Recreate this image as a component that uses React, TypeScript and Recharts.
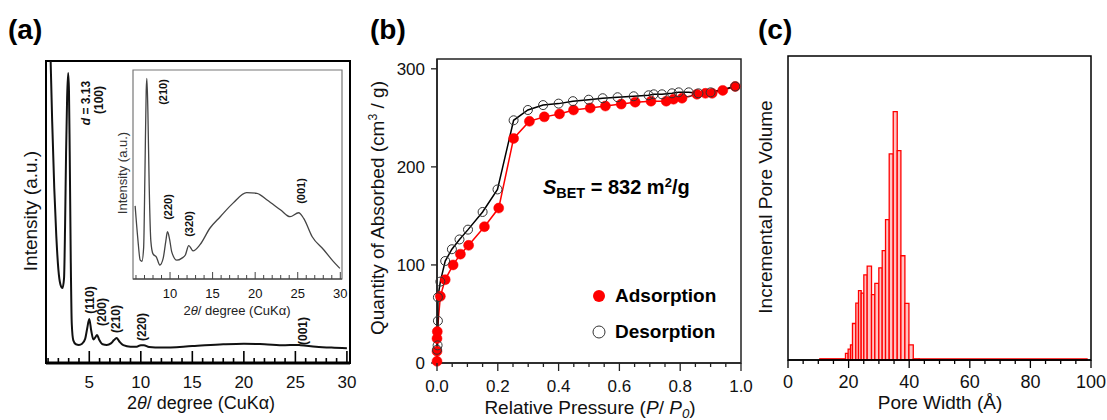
import React from 'react';
import { LineChart, Line, XAxis, YAxis, ReferenceArea } from 'recharts';

const FONT = '"Liberation Sans", Arial, Helvetica, sans-serif';
const RED = '#ff0000';

// (a) small-angle XRD, main trace
const xrdAngle = [1.25, 1.4, 1.6, 1.8, 2.0, 2.2, 2.4, 2.55, 2.65, 2.75, 2.85, 2.95, 3.03, 3.1, 3.2, 3.3, 3.45, 3.7, 4.0, 4.3, 4.6, 4.8, 5.0, 5.2, 5.4, 5.6, 5.75, 5.95, 6.3, 6.7, 7.1, 7.4, 7.65, 7.9, 8.3, 9.0, 9.6, 10.0, 10.3, 10.8, 12, 15, 18, 20, 22, 24, 25, 25.5, 27, 28.5, 30];
const xrdIntensity = [100, 80, 58, 42, 31, 26, 24.8, 28, 45, 70, 88, 96, 90, 70, 35, 13, 7.5, 6.2, 6.0, 6.4, 8, 11.5, 14.6, 10.5, 7.8, 8.6, 9.3, 7.8, 6.2, 6.0, 6.5, 7.6, 8.3, 7.2, 5.9, 5.4, 5.4, 5.9, 5.9, 5.3, 5.1, 5.6, 6.2, 6.4, 6.2, 5.9, 6.0, 5.9, 5.4, 5.1, 4.9];

// (a) inset trace
const insetAngle = [5.9, 6.2, 6.5, 6.7, 6.9, 7.05, 7.2, 7.28, 7.4, 7.55, 7.75, 8.0, 8.4, 8.8, 9.2, 9.5, 9.7, 9.95, 10.2, 10.8, 11.4, 11.8, 12.2, 12.7, 13.5, 14.7, 15.9, 17.4, 19.0, 20.2, 21.4, 23.0, 24.1, 25.1, 25.7, 26.7, 28.05, 29.2, 29.95];
const insetIntensity = [35, 20, 9, 8.5, 15, 50, 90, 96, 80, 45, 18, 12, 10.5, 6.7, 10, 18, 22.6, 19, 13, 9, 10, 11.5, 16, 13.5, 16.3, 24.4, 29.8, 36.3, 41.3, 41, 37.8, 33, 29.8, 31.7, 29, 20.2, 14, 8.3, 5.1];

// (b) N2 isotherm
const adsP = [0, 0, 0, 0.001, 0.011, 0.027, 0.053, 0.077, 0.104, 0.156, 0.203, 0.252, 0.304, 0.353, 0.403, 0.449, 0.504, 0.554, 0.606, 0.652, 0.704, 0.754, 0.778, 0.806, 0.855, 0.883, 0.905, 0.94, 0.981];
const adsQ = [1.7, 12, 25, 32, 68, 85, 100, 111, 120, 139, 158, 229, 246.5, 251, 254, 258, 260, 262, 264, 266, 267, 267, 269, 270, 274, 275, 275, 278, 282];
const desP = [0.981, 0.9, 0.86, 0.828, 0.795, 0.773, 0.74, 0.713, 0.696, 0.647, 0.594, 0.545, 0.499, 0.447, 0.4, 0.349, 0.299, 0.252, 0.199, 0.15, 0.102, 0.074, 0.049, 0.027, 0.011, 0.003, 0.003, 0.002, 0];
const desQ = [282, 276, 275, 276, 276, 275, 274, 274, 273, 272, 271, 270, 268.5, 267, 264.5, 263, 258, 247.5, 177, 154, 136, 126, 116, 104, 83, 67, 43, 18, 13.5];

// (c) pore size distribution (bin edges in Å, heights in relative units)
const poreEdges = [10.5, 18.97, 19.85, 20.62, 21.28, 22.38, 23.27, 24.15, 25.03, 26.13, 27.56, 28.66, 29.98, 31.09, 32.19, 33.4, 34.73, 36.05, 37.26, 38.58, 39.91, 41.34, 43.32, 98.7];
const poreVolume = [0.4, 2.2, 3.6, 5.0, 12.0, 18.7, 22.8, 22.0, 28.0, 30.9, 21.5, 25.2, 30.3, 36.0, 46.2, 67.8, 81.7, 68.9, 34.3, 18.6, 5.0, 0.4, 0.4];

// tick values
const xrdTicks = [1, 2, 3, 4, 5, 6, 7, 8, 9, 10, 11, 12, 13, 14, 15, 16, 17, 18, 19, 20, 21, 22, 23, 24, 25, 26, 27, 28, 29, 30];
const insetTicks = xrdTicks.filter((v) => v >= 6);
const pressureTicks = [0, 0.05, 0.1, 0.15, 0.2, 0.25, 0.3, 0.35, 0.4, 0.45, 0.5, 0.55, 0.6, 0.65, 0.7, 0.75, 0.8, 0.85, 0.9, 0.95, 1.0];
const quantityTicks = [0, 100, 200, 300];
const widthTicks = [0, 5, 10, 15, 20, 25, 30, 35, 40, 45, 50, 55, 60, 65, 70, 75, 80, 85, 90, 95, 100];

const zip = (xs: number[], ys: number[]) => xs.map((x, i) => ({ x, y: ys[i] }));
const xrdData = zip(xrdAngle, xrdIntensity);
const insetData = zip(insetAngle, insetIntensity);
const adsData = zip(adsP, adsQ);
const desData = zip(desP, desQ);
const poreBins = poreVolume.map((h, i) => ({ x1: poreEdges[i], x2: poreEdges[i + 1], x: (poreEdges[i] + poreEdges[i + 1]) / 2, h }));

type TickOpts = {
  isMajor: (v: number) => boolean;
  label: (v: number) => string;
  dir: number;
  minLen: number;
  majLen: number;
  dy: number;
  size: number;
  sw: number;
  color: string;
};

const makeTick = (o: TickOpts) => (props: any) => {
  const { x, y, payload } = props;
  const v = payload.value;
  const maj = o.isMajor(v);
  return (
    <g>
      <line x1={x} x2={x} y1={y} y2={y + o.dir * (maj ? o.majLen : o.minLen)} stroke={o.color} strokeWidth={o.sw} />
      {maj && (
        <text x={x} y={y + o.dy} textAnchor="middle" fontSize={o.size} fontFamily={FONT} fill="#111">
          {o.label(v)}
        </text>
      )}
    </g>
  );
};

const xrdTick = makeTick({ isMajor: (v) => v % 5 === 0, label: String, dir: -1, minLen: 5, majLen: 12, dy: 25, size: 17, sw: 1.6, color: '#000' });
const insetTick = makeTick({ isMajor: (v) => v % 5 === 0, label: String, dir: -1, minLen: 4, majLen: 7, dy: 19, size: 13, sw: 1, color: '#444' });
const pressureTick = makeTick({ isMajor: (v) => Math.abs(v * 5 - Math.round(v * 5)) < 1e-6, label: (v) => v.toFixed(1), dir: 1, minLen: 4, majLen: 8, dy: 29, size: 17, sw: 1.3, color: '#222' });
const widthTick = makeTick({ isMajor: (v) => v % 20 === 0, label: String, dir: 1, minLen: 4, majLen: 8, dy: 28, size: 18, sw: 1.3, color: '#000' });

const Txt = ({ x, y, size, rot, bold, color, children }: any) => (
  <div
    style={{
      position: 'absolute',
      left: x,
      top: y,
      transform: `translate(-50%, -50%)${rot ? ' rotate(-90deg)' : ''}`,
      fontSize: size,
      fontWeight: bold ? 'bold' : 'normal',
      lineHeight: 1,
      whiteSpace: 'nowrap',
      color: color ?? '#111',
    }}
  >
    {children}
  </div>
);

const sub = { fontSize: '0.7em', verticalAlign: '-0.25em' };
const sup = { fontSize: '0.65em', verticalAlign: '0.5em' };

const redDot = (p: any) => <circle key={`a${p.index}`} cx={p.cx} cy={p.cy} r={5} fill={RED} stroke={RED} strokeWidth={0.5} />;
const openDot = (p: any) => <circle key={`d${p.index}`} cx={p.cx} cy={p.cy} r={4.5} fill="none" stroke="#333" strokeWidth={1} />;

export default function App() {
  return (
    <div style={{ position: 'absolute', left: 0, top: 0, width: 1107, height: 420, background: '#fff', fontFamily: FONT, overflow: 'hidden' }}>
      {/* (a) main XRD */}
      <div style={{ position: 'absolute', left: 0, top: 0 }}>
        <LineChart width={360} height={420} margin={{ top: 61, right: 10, bottom: 27, left: 46 }}>
          <XAxis type="number" dataKey="x" domain={[0.8, 30.3]} ticks={xrdTicks} interval={0} tick={xrdTick} tickLine={false} tickSize={0} tickMargin={0} height={30} allowDataOverflow axisLine={{ stroke: '#000', strokeWidth: 3 }} />
          <YAxis type="number" domain={[0, 100]} hide allowDataOverflow />
          <Line data={xrdData} dataKey="y" type="monotone" stroke="#111" strokeWidth={2} dot={false} isAnimationActive={false} />
          <ReferenceArea x1={0.8} x2={30.3} y1={0} y2={100} fill="none" stroke="#000" strokeWidth={2} ifOverflow="visible" />
        </LineChart>
      </div>

      {/* (a) inset */}
      <div style={{ position: 'absolute', left: 100, top: 60 }}>
        <LineChart width={250} height={260} margin={{ top: 10, right: 8, bottom: 16, left: 33 }}>
          <XAxis type="number" dataKey="x" domain={[5.65, 30.2]} ticks={insetTicks} interval={0} tick={insetTick} tickLine={false} tickSize={0} tickMargin={0} height={25} allowDataOverflow axisLine={{ stroke: '#555', strokeWidth: 1.5 }} />
          <YAxis type="number" domain={[0, 100]} hide allowDataOverflow />
          <Line data={insetData} dataKey="y" type="monotone" stroke="#444" strokeWidth={1.3} dot={false} isAnimationActive={false} />
          <ReferenceArea x1={5.65} x2={30.2} y1={0} y2={100} fill="none" stroke="#777" strokeWidth={1.2} ifOverflow="visible" />
        </LineChart>
      </div>

      {/* (b) isotherm */}
      <div style={{ position: 'absolute', left: 370, top: 0 }}>
        <LineChart width={390} height={420} margin={{ top: 59, right: 19, bottom: 27, left: 17 }}>
          <XAxis type="number" dataKey="x" domain={[0, 1]} ticks={pressureTicks} interval={0} tick={pressureTick} tickLine={false} tickSize={0} tickMargin={0} height={30} axisLine={{ stroke: '#222', strokeWidth: 1.5 }} />
          <YAxis type="number" domain={[0, 310]} ticks={quantityTicks} interval={0} width={50} tickSize={6} tickMargin={6} tick={{ fontSize: 17, fill: '#111', fontFamily: FONT }} tickLine={{ stroke: '#222', strokeWidth: 1.3 }} axisLine={{ stroke: '#222', strokeWidth: 1.5 }} />
          <ReferenceArea x1={0} x2={1} y1={0} y2={310} fill="none" stroke="#222" strokeWidth={1.5} ifOverflow="visible" />
          <Line data={adsData} dataKey="y" type="linear" stroke={RED} strokeWidth={1.5} dot={redDot} isAnimationActive={false} />
          <Line data={desData} dataKey="y" type="linear" stroke="#000" strokeWidth={1.5} dot={openDot} isAnimationActive={false} />
        </LineChart>
      </div>

      {/* (c) pore size distribution */}
      <div style={{ position: 'absolute', left: 740, top: 0 }}>
        <LineChart width={367} height={420} margin={{ top: 56, right: 16, bottom: 30, left: 48 }}>
          <XAxis type="number" dataKey="x" domain={[0, 100]} ticks={widthTicks} interval={0} tick={widthTick} tickLine={false} tickSize={0} tickMargin={0} height={30} axisLine={{ stroke: '#000', strokeWidth: 1.5 }} />
          <YAxis type="number" domain={[0, 100]} hide />
          <Line data={poreBins} dataKey="h" stroke="none" dot={false} isAnimationActive={false} />
          {poreBins.map((b, i) => (
            <ReferenceArea key={i} x1={b.x1} x2={b.x2} y1={0} y2={b.h} fill="#ffc4c4" fillOpacity={1} stroke={RED} strokeWidth={1.3} ifOverflow="visible" />
          ))}
          <ReferenceArea x1={0} x2={100} y1={0} y2={100} fill="none" stroke="#000" strokeWidth={1.5} ifOverflow="visible" />
        </LineChart>
      </div>

      {/* panel letters */}
      <div style={{ position: 'absolute', left: 8, top: 16, fontSize: 28, fontWeight: 'bold', lineHeight: 1 }}>(a)</div>
      <div style={{ position: 'absolute', left: 370, top: 16, fontSize: 28, fontWeight: 'bold', lineHeight: 1 }}>(b)</div>
      <div style={{ position: 'absolute', left: 758, top: 16, fontSize: 28, fontWeight: 'bold', lineHeight: 1 }}>(c)</div>

      {/* (a) texts */}
      <Txt x={30} y={211} size={19} rot>Intensity (a.u.)</Txt>
      <Txt x={201} y={403} size={18}>2<i>θ</i>/ degree (CuKα)</Txt>
      <Txt x={86} y={103} size={12} rot bold><i>d</i> = 3.13</Txt>
      <Txt x={99} y={100} size={12} rot bold>(100)</Txt>
      <Txt x={90} y={300} size={12} rot bold>(110)</Txt>
      <Txt x={102} y={312} size={12} rot bold>(200)</Txt>
      <Txt x={116} y={319} size={12} rot bold>(210)</Txt>
      <Txt x={142} y={327} size={12} rot bold>(220)</Txt>
      <Txt x={303} y={331} size={12} rot bold>(001)</Txt>
      <Txt x={122} y={173} size={13} rot color="#333">Intensity (a.u.)</Txt>
      <Txt x={237} y={310} size={13} color="#222">2<i>θ</i>/ degree (CuKα)</Txt>
      <Txt x={163} y={92} size={11} rot bold>(210)</Txt>
      <Txt x={168} y={207} size={11} rot bold>(220)</Txt>
      <Txt x={189} y={224} size={11} rot bold>(320)</Txt>
      <Txt x={301} y={191} size={11} rot bold>(001)</Txt>

      {/* (b) texts */}
      <Txt x={377} y={208} size={19} rot>Quantity of Absorbed (cm<span style={sup}>3</span> / g)</Txt>
      <Txt x={590} y={409} size={19}>Relative Pressure (<i>P</i>/ <i>P</i><i style={sub}>0</i>)</Txt>
      <div style={{ position: 'absolute', left: 543, top: 173, fontSize: 20, fontWeight: 'bold', lineHeight: '20px', whiteSpace: 'nowrap' }}>
        <i>S</i><span style={{ fontSize: '0.72em', verticalAlign: '-0.3em' }}>BET</span> = 832 m<span style={sup}>2</span>/g
      </div>
      <svg style={{ position: 'absolute', left: 590, top: 287 }} width={20} height={55}>
        <circle cx={9} cy={9} r={6} fill={RED} />
        <circle cx={9} cy={45} r={6} fill="none" stroke="#333" strokeWidth={1} />
      </svg>
      <div style={{ position: 'absolute', left: 615, top: 286, fontSize: 19, fontWeight: 'bold', lineHeight: 1 }}>Adsorption</div>
      <div style={{ position: 'absolute', left: 615, top: 322, fontSize: 19, fontWeight: 'bold', lineHeight: 1 }}>Desorption</div>

      {/* (c) texts */}
      <Txt x={765} y={207} size={19} rot>Incremental Pore Volume</Txt>
      <Txt x={940} y={402} size={19}>Pore Width (Å)</Txt>
    </div>
  );
}
